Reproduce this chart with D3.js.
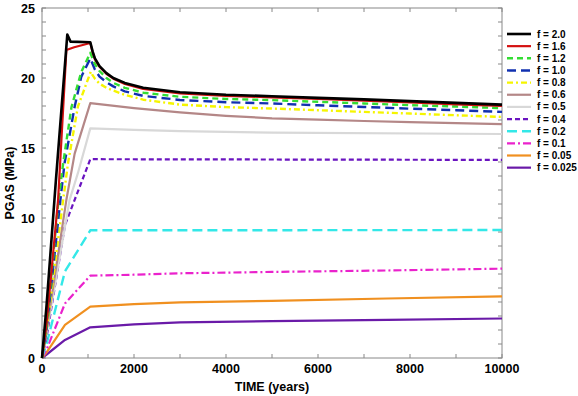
<!DOCTYPE html>
<html>
<head>
  <meta charset="utf-8" />
  <title>PGAS vs TIME</title>
  <style>
    body { margin: 0; background: #fff; }
    svg text { font-family: Arial, "Liberation Sans", sans-serif; font-weight: bold; fill: #000; }
  </style>
</head>
<body>
<svg id="chart" width="578" height="396"></svg>
<script src="https://d3js.org/d3.v7.min.js"></script>
<script>
  // Legend labels, one per curve (top to bottom)
  const labels = ["f = 2.0", "f = 1.6", "f = 1.2", "f = 1.0", "f = 0.8", "f = 0.6",
                  "f = 0.5", "f = 0.4", "f = 0.2", "f = 0.1", "f = 0.05", "f = 0.025"];

  // Tick values
  const xTicks = [0, 2000, 4000, 6000, 8000, 10000];
  const yTicks = [0, 5, 10, 15, 20, 25];

  // Curves: [time (years), PGAS (MPa)]
  const f2_0 = [[0,0],[100,3.8],[300,12.6],[550,23.1],[620,22.6],[1050,22.55],
    [1100,21.9],[1150,21.4],[1250,20.85],[1400,20.35],[1550,20.0],[1800,19.65],[2200,19.3],
    [3000,18.98],[4000,18.8],[5000,18.7],[6000,18.58],[7000,18.47],[8000,18.35],[9000,18.22],[10000,18.1]];
  const f1_6 = [[0,0],[100,2.5],[350,11.3],[530,22.0],[700,22.2],[1050,22.5],
    [1100,21.85],[1150,21.35],[1250,20.8],[1400,20.3],[1550,19.95],[1800,19.58],[2200,19.22],
    [3000,18.9],[4000,18.72],[5000,18.62],[6000,18.5],[7000,18.38],[8000,18.25],[9000,18.12],[10000,18.0]];
  const f1_2 = [[0,0],[100,2.3],[360,11.3],[460,13.9],[640,17.9],[850,20.4],[1050,21.8],
    [1100,21.4],[1150,21.0],[1250,20.5],[1400,20.0],[1550,19.65],[1800,19.3],[2200,18.95],
    [3000,18.66],[4000,18.5],[5000,18.42],[6000,18.3],[7000,18.18],[8000,18.06],[9000,17.96],[10000,17.85]];
  const f1_0 = [[0,0],[100,2.1],[400,11.3],[490,13.9],[710,17.95],[855,20.1],[1050,21.4],
    [1100,21.0],[1150,20.6],[1250,20.1],[1400,19.7],[1550,19.4],[1800,19.05],[2200,18.72],
    [3000,18.43],[4000,18.27],[5000,18.18],[6000,18.05],[7000,17.93],[8000,17.81],[9000,17.7],[10000,17.58]];
  const f0_8 = [[0,0],[100,2.0],[460,11.3],[565,13.9],[780,17.95],[965,19.6],[1060,20.45],
    [1100,20.2],[1150,19.95],[1250,19.6],[1400,19.3],[1550,19.1],[1800,18.8],[2200,18.45],
    [3000,18.1],[4000,17.92],[5000,17.82],[6000,17.7],[7000,17.58],[8000,17.46],[9000,17.34],[10000,17.22]];
  const f0_6 = [[0,0],[100,2.0],[530,11.3],[710,14.6],[1050,18.2],[2000,17.85],[3000,17.55],
    [4000,17.3],[5000,17.12],[6000,17.02],[7000,16.93],[8000,16.85],[9000,16.78],[10000,16.7]];
  const f0_5 = [[0,0],[100,1.8],[600,11.3],[780,13.2],[1050,16.4],[2000,16.3],[3000,16.2],
    [5000,16.1],[10000,16.0]];
  const f0_4 = [[0,0],[100,1.5],[500,9.5],[1050,14.2],[10000,14.15]];
  const f0_2 = [[0,0],[100,1.0],[500,6.2],[1050,9.12],[10000,9.14]];
  const f0_1 = [[0,0],[100,0.6],[500,3.9],[1050,5.88],[2000,5.95],[3000,6.05],[5000,6.15],
    [7500,6.25],[10000,6.38]];
  const f0_05 = [[0,0],[100,0.4],[500,2.36],[1050,3.67],[2000,3.85],[3000,3.98],[5000,4.08],
    [7500,4.25],[10000,4.4]];
  const f0_025 = [[0,0],[100,0.25],[500,1.29],[1050,2.19],[2000,2.4],[3000,2.55],[5000,2.63],
    [7500,2.72],[10000,2.82]];

  const curves = [f2_0, f1_6, f1_2, f1_0, f0_8, f0_6, f0_5, f0_4, f0_2, f0_1, f0_05, f0_025];

  // Line styles for each curve
  const styles = [
    { color: "#000000", dash: null, w: 2.6 },
    { color: "#d41010", dash: null, w: 2.2 },
    { color: "#33dd33", dash: "6,4", w: 2.4 },
    { color: "#1030b0", dash: "9,5", w: 2.4 },
    { color: "#f5f500", dash: "6,3,2,3", w: 2.4 },
    { color: "#b48787", dash: null, w: 2.2 },
    { color: "#d8d8d8", dash: null, w: 2.2 },
    { color: "#6a14c0", dash: "5,3", w: 2.2 },
    { color: "#33e8e8", dash: "10,5", w: 2.4 },
    { color: "#ea22cc", dash: "8,3,2,3", w: 2.2 },
    { color: "#f09020", dash: null, w: 2.2 },
    { color: "#6a1aa8", dash: null, w: 2.2 }
  ];

  const svg = d3.select("#chart");
  const plotL = 42, plotR = 502, plotT = 8, plotB = 358;

  const x = d3.scaleLinear().domain([0, 10000]).range([plotL, plotR]);
  const y = d3.scaleLinear().domain([0, 25]).range([plotB, plotT]);

  // frame
  svg.append("rect")
    .attr("x", plotL).attr("y", plotT)
    .attr("width", plotR - plotL).attr("height", plotB - plotT)
    .attr("fill", "none").attr("stroke", "#888").attr("stroke-width", 1);

  // minor/major ticks on all four sides, pointing inward
  const xMinor = d3.range(0, 10001, 1000);
  const yMinor = d3.range(0, 26, 1);
  const tickLen = 4;
  const tg = svg.append("g").attr("stroke", "#888").attr("stroke-width", 1);
  xMinor.forEach(t => {
    tg.append("line").attr("x1", x(t)).attr("x2", x(t)).attr("y1", plotB).attr("y2", plotB - tickLen);
    tg.append("line").attr("x1", x(t)).attr("x2", x(t)).attr("y1", plotT).attr("y2", plotT + tickLen);
  });
  yMinor.forEach(v => {
    tg.append("line").attr("y1", y(v)).attr("y2", y(v)).attr("x1", plotL).attr("x2", plotL + tickLen);
    tg.append("line").attr("y1", y(v)).attr("y2", y(v)).attr("x1", plotR).attr("x2", plotR - tickLen);
  });

  // tick labels
  svg.append("g").selectAll("text").data(xTicks).join("text")
    .attr("x", d => x(d)).attr("y", 373)
    .attr("text-anchor", "middle").attr("font-size", 12.5)
    .text(d => d);
  svg.append("g").selectAll("text").data(yTicks).join("text")
    .attr("x", 35).attr("y", d => y(d) + 4.5)
    .attr("text-anchor", "end").attr("font-size", 12.5)
    .text(d => d);

  // axis titles
  svg.append("text").attr("x", 272).attr("y", 391)
    .attr("text-anchor", "middle").attr("font-size", 12.5)
    .text("TIME (years)");
  svg.append("text")
    .attr("transform", `translate(14,${(plotT + plotB) / 2}) rotate(-90)`)
    .attr("text-anchor", "middle").attr("font-size", 12.5)
    .text("PGAS (MPa)");

  // curves (draw lower ones first so top curves sit on top)
  const line = d3.line().x(d => x(d[0])).y(d => y(d[1]));
  const plot = svg.append("g");
  for (let i = curves.length - 1; i >= 0; i--) {
    plot.append("path")
      .attr("d", line(curves[i]))
      .attr("fill", "none")
      .attr("stroke", styles[i].color)
      .attr("stroke-width", styles[i].w)
      .attr("stroke-dasharray", styles[i].dash)
      .attr("stroke-linejoin", "round");
  }

  // legend
  const leg = svg.append("g");
  labels.forEach((lab, i) => {
    const ly = 34 + i * 12.15;
    leg.append("line")
      .attr("x1", 507).attr("x2", 531).attr("y1", ly).attr("y2", ly)
      .attr("stroke", styles[i].color)
      .attr("stroke-width", styles[i].w)
      .attr("stroke-dasharray", styles[i].dash);
    leg.append("text")
      .attr("x", 537).attr("y", ly + 3.5)
      .attr("font-size", 10)
      .text(lab);
  });
</script>
</body>
</html>
